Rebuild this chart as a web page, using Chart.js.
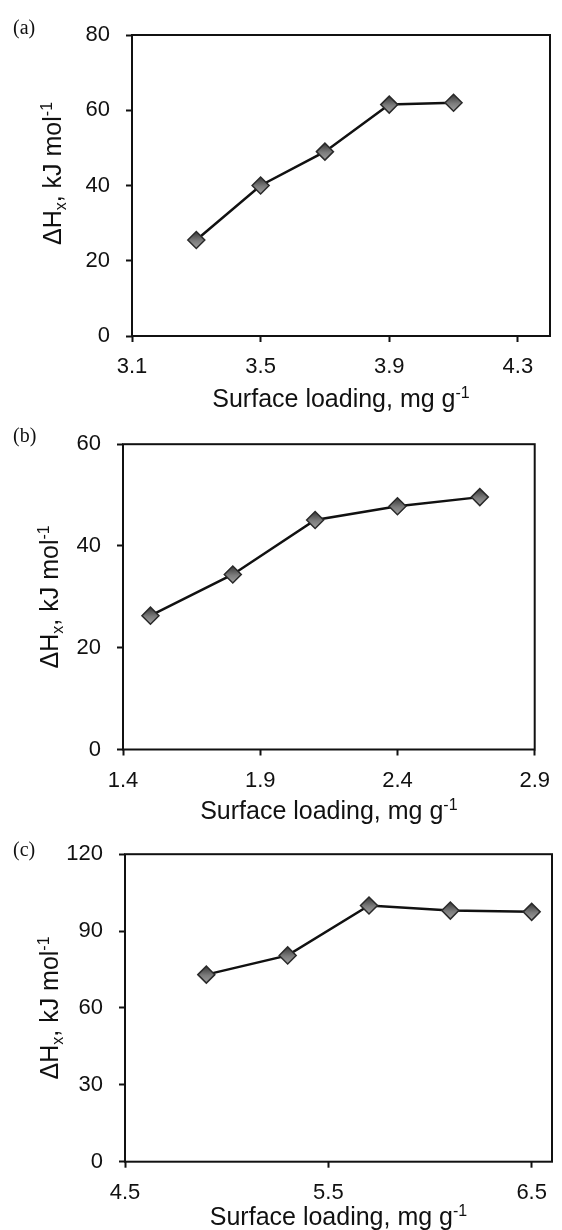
<!DOCTYPE html>
<html>
<head>
<meta charset="utf-8">
<script src="https://cdn.jsdelivr.net/npm/chart.js@4.4.1/dist/chart.umd.min.js"></script>
<style>
  body { margin: 0; background: #fff; }
  #wrap { position: relative; width: 562px; height: 1230px; overflow: hidden; }
  .panel { position: absolute; left: 0; width: 562px; }
  .tag { position: absolute; left: 13px; font: 20px "Liberation Serif", "Times New Roman", serif; line-height: 1; color: #111; }
</style>
</head>
<body>
<div id="wrap">
  <div class="panel" style="top:0;height:415px"><canvas id="chart-a"></canvas></div>
  <div class="panel" style="top:415px;height:410px"><canvas id="chart-b"></canvas></div>
  <div class="panel" style="top:825px;height:405px"><canvas id="chart-c"></canvas></div>
  <div class="tag" style="top:17px">(a)</div>
  <div class="tag" style="top:425px">(b)</div>
  <div class="tag" style="top:839px">(c)</div>
</div>
<script>
// panel (a)
const loadingA = [3.3, 3.5, 3.7, 3.9, 4.1];
const enthalpyA = [25.5, 40, 49, 61.5, 62];
const xRangeA = [3.1, 4.4];
const xTicksA = [3.1, 3.5, 3.9, 4.3];
const yTicksA = [0, 20, 40, 60, 80];

// panel (b)
const loadingB = [1.5, 1.8, 2.1, 2.4, 2.7];
const enthalpyB = [26.3, 34.4, 45.1, 47.8, 49.6];
const xRangeB = [1.4, 2.9];
const xTicksB = [1.4, 1.9, 2.4, 2.9];
const yTicksB = [0, 20, 40, 60];

// panel (c)
const loadingC = [4.9, 5.3, 5.7, 6.1, 6.5];
const enthalpyC = [73, 80.5, 100, 98, 97.5];
const xRangeC = [4.5, 6.6];
const xTicksC = [4.5, 5.5, 6.5];
const yTicksC = [0, 30, 60, 90, 120];

const SANS = '"Liberation Sans", Arial, Helvetica, sans-serif';
const INK = '#111';

// title pieces: 0 = normal, -1 = subscript, 1 = superscript
const yTitle = [['\u0394H', 0], ['x', -1], [', kJ mol', 0], ['-1', 1]];
const xTitle = [['Surface loading, mg g', 0], ['-1', 1]];

function drawRich(ctx, parts, cx, baseline) {
  const big = 25, small = 16;
  const fontFor = (k) => (k === 0 ? big : small) + 'px ' + SANS;
  let total = 0;
  parts.forEach(([t, k]) => { ctx.font = fontFor(k); total += ctx.measureText(t).width; });
  let x = cx - total / 2;
  ctx.textAlign = 'left';
  ctx.textBaseline = 'alphabetic';
  parts.forEach(([t, k]) => {
    ctx.font = fontFor(k);
    const dy = k === -1 ? 5 : (k === 1 ? -9 : 0);
    ctx.fillText(t, x, baseline + dy);
    x += ctx.measureText(t).width;
  });
}

const framePlugin = {
  id: 'frame',
  beforeDatasetsDraw(chart) {
    const { ctx, chartArea: a } = chart;
    ctx.save();
    ctx.strokeStyle = INK;
    ctx.lineWidth = 2;
    ctx.strokeRect(a.left, a.top, a.right - a.left, a.bottom - a.top);
    ctx.restore();
  },
  afterDraw(chart, args, opts) {
    const { ctx, chartArea: a } = chart;
    ctx.save();
    ctx.fillStyle = INK;
    drawRich(ctx, xTitle, (a.left + a.right) / 2, a.bottom + opts.xTitleGap);
    ctx.translate(opts.yTitleX, (a.top + a.bottom) / 2 + opts.yTitleShift);
    ctx.rotate(-Math.PI / 2);
    drawRich(ctx, yTitle, 0, 9);
    ctx.restore();
  }
};

function markerFill(c) {
  const chart = c.chart;
  if (c.type !== 'data' || !chart.chartArea || !c.parsed) return '#777';
  const y = chart.scales.y.getPixelForValue(c.parsed.y);
  const g = chart.ctx.createLinearGradient(0, y - 8, 0, y + 8);
  g.addColorStop(0, '#3a3a3a');
  g.addColorStop(0.55, '#7c7c7c');
  g.addColorStop(1, '#9c9c9c');
  return g;
}

function makePanel(id, xs, ys, xRange, xTicks, yTicks, box) {
  const axisCommon = {
    border: { display: false },
    grid: { drawOnChartArea: false, drawTicks: true, tickLength: 6, tickWidth: 2, tickColor: INK },
    ticks: { color: INK, font: { family: SANS, size: 22 } }
  };
  return new Chart(document.getElementById(id), {
    type: 'line',
    data: {
      datasets: [{
        data: xs.map((x, i) => ({ x: x, y: ys[i] })),
        borderColor: INK,
        borderWidth: 2.5,
        tension: 0,
        pointStyle: 'rectRot',
        pointRadius: 8.5,
        pointBorderWidth: 1.5,
        pointBorderColor: '#2a2a2a',
        pointBackgroundColor: markerFill
      }]
    },
    options: {
      responsive: true,
      maintainAspectRatio: false,
      animation: false,
      events: [],
      layout: { padding: { top: box.top, right: box.right, left: 0, bottom: 0 } },
      plugins: {
        legend: { display: false },
        tooltip: { enabled: false },
        frame: { xTitleGap: box.xTitleGap, yTitleX: box.yTitleX, yTitleShift: box.yTitleShift }
      },
      scales: {
        x: {
          ...axisCommon,
          type: 'linear',
          min: xRange[0],
          max: xRange[1],
          ticks: { ...axisCommon.ticks, padding: 12, maxRotation: 0, callback: (v) => String(v) },
          afterBuildTicks: (s) => { s.ticks = xTicks.map((v) => ({ value: v })); },
          afterFit: (s) => { s.height = box.xHeight; }
        },
        y: {
          ...axisCommon,
          type: 'linear',
          min: yTicks[0],
          max: yTicks[yTicks.length - 1],
          ticks: { ...axisCommon.ticks, padding: 16, callback: (v) => String(v) },
          afterBuildTicks: (s) => { s.ticks = yTicks.map((v) => ({ value: v })); },
          afterFit: (s) => { s.width = box.yWidth; }
        }
      }
    },
    plugins: [framePlugin]
  });
}

makePanel('chart-a', loadingA, enthalpyA, xRangeA, xTicksA, yTicksA,
  { top: 35, right: 12, yWidth: 132, xHeight: 79, xTitleGap: 71, yTitleX: 52, yTitleShift: -12 });
makePanel('chart-b', loadingB, enthalpyB, xRangeB, xTicksB, yTicksB,
  { top: 28, right: 18, yWidth: 123, xHeight: 75.5, xTitleGap: 69.5, yTitleX: 49, yTitleShift: 0 });
makePanel('chart-c', loadingC, enthalpyC, xRangeC, xTicksC, yTicksC,
  { top: 28.5, right: 3, yWidth: 125, xHeight: 68.3, xTitleGap: 63.5, yTitleX: 49, yTitleShift: 0 });
</script>
</body>
</html>
